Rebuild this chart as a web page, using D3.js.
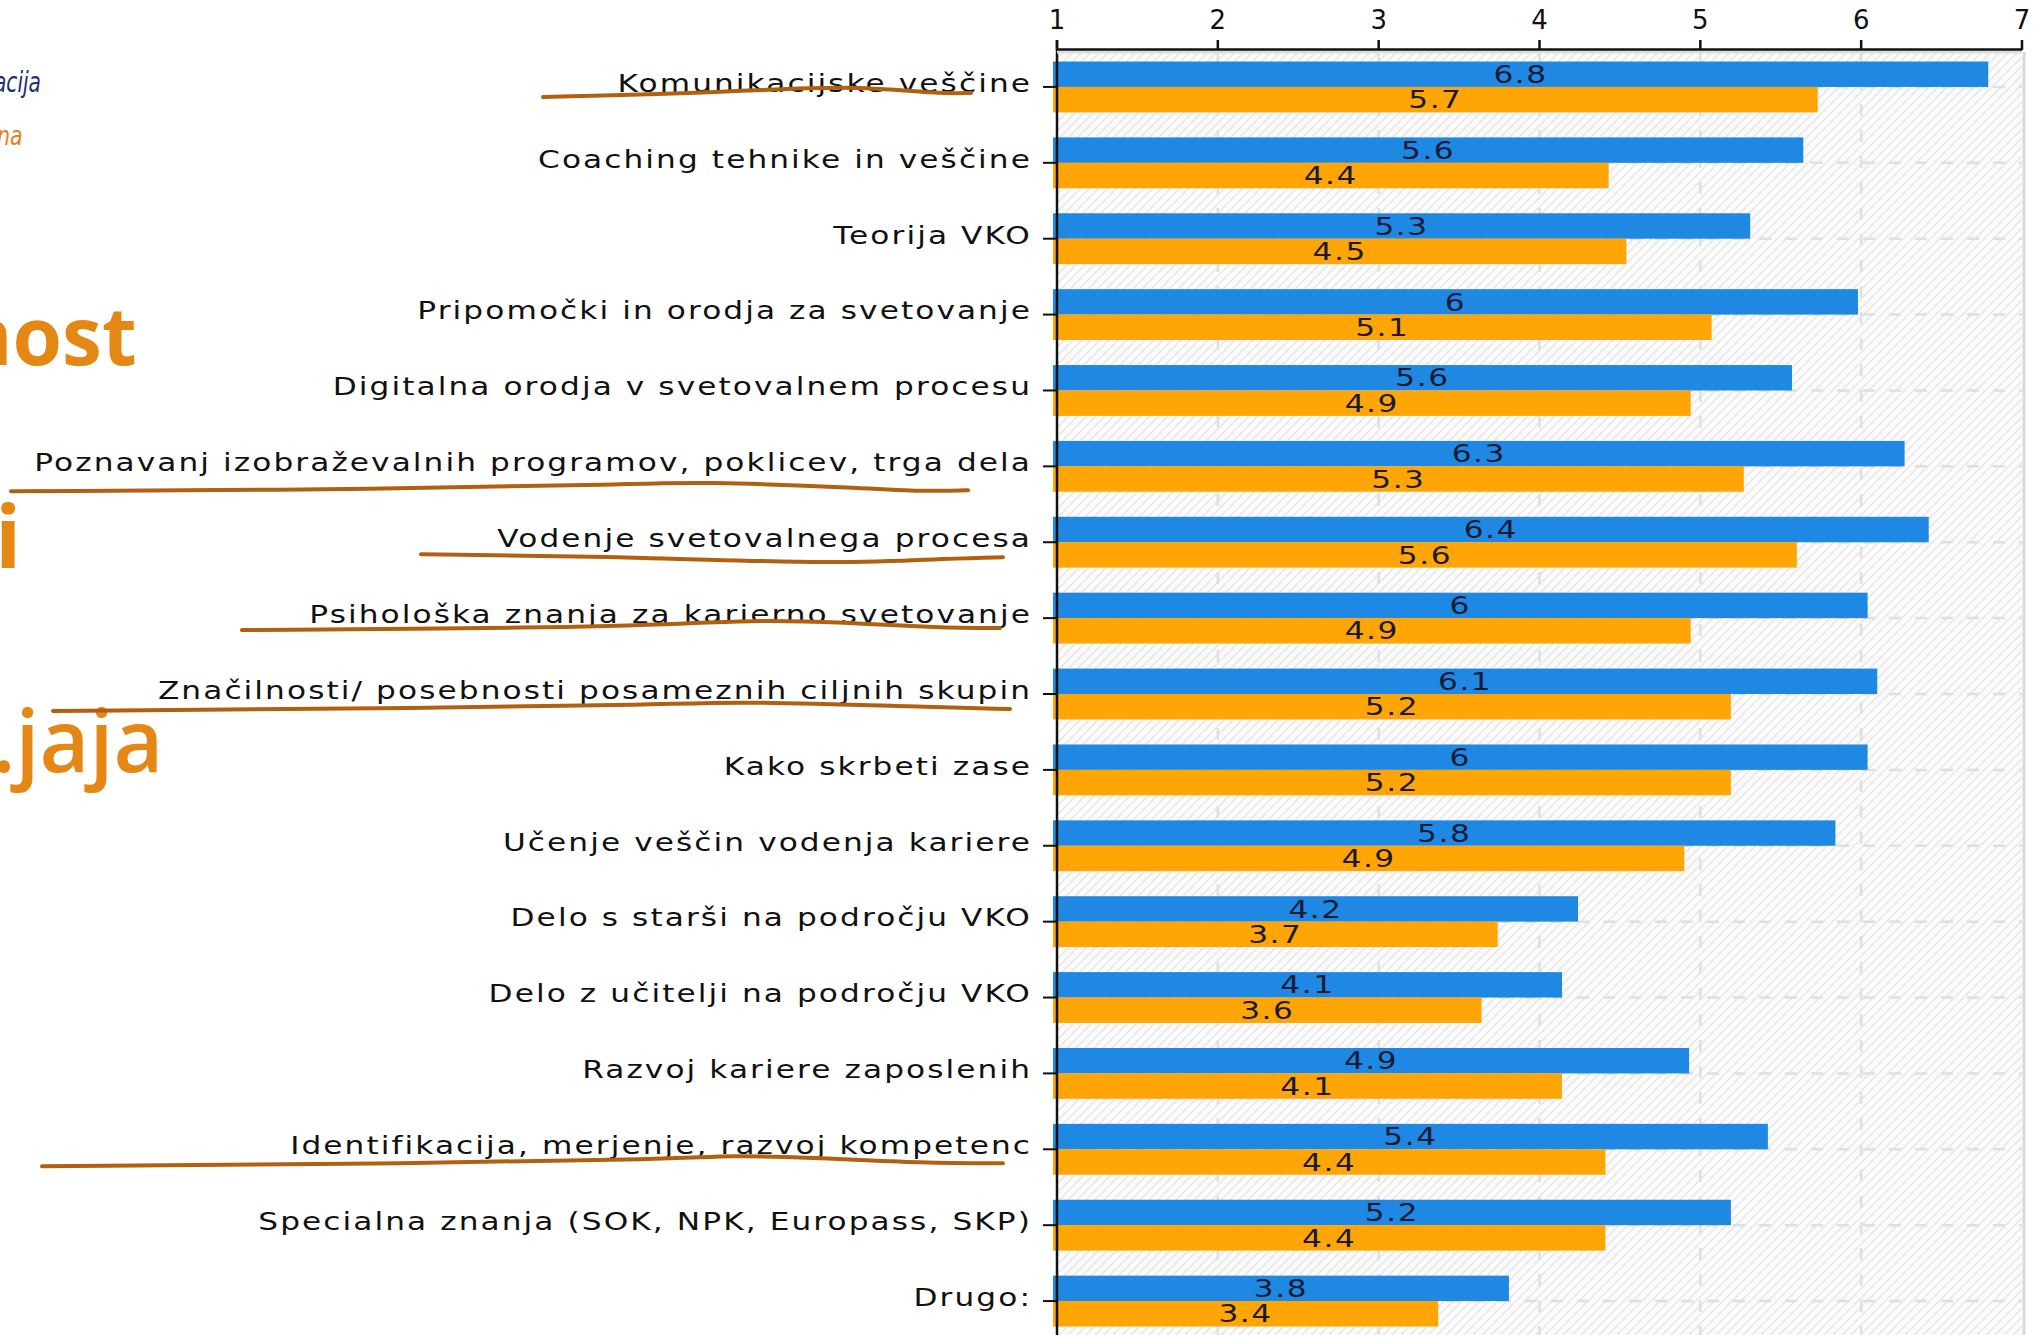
<!DOCTYPE html>
<html><head><meta charset="utf-8">
<script src="https://cdn.jsdelivr.net/npm/d3@7"></script>
<style>
html,body{margin:0;padding:0;background:#fff;overflow:hidden}
svg{display:block}
</style></head>
<body>
<script>
const categories = [
  "Komunikacijske veščine",
  "Coaching tehnike in veščine",
  "Teorija VKO",
  "Pripomočki in orodja za svetovanje",
  "Digitalna orodja v svetovalnem procesu",
  "Poznavanj izobraževalnih programov, poklicev, trga dela",
  "Vodenje svetovalnega procesa",
  "Psihološka znanja za karierno svetovanje",
  "Značilnosti/ posebnosti posameznih ciljnih skupin",
  "Kako skrbeti zase",
  "Učenje veščin vodenja kariere",
  "Delo s starši na področju VKO",
  "Delo z učitelji na področju VKO",
  "Razvoj kariere zaposlenih",
  "Identifikacija, merjenje, razvoj kompetenc",
  "Specialna znanja (SOK, NPK, Europass, SKP)",
  "Drugo:"
];
const seriesBlue   = [6.79, 5.64, 5.31, 5.98, 5.57, 6.27, 6.42, 6.04, 6.10, 6.04, 5.84, 4.24, 4.14, 4.93, 5.42, 5.19, 3.81];
const seriesOrange = [5.73, 4.43, 4.54, 5.07, 4.94, 5.27, 5.60, 4.94, 5.19, 5.19, 4.90, 3.74, 3.64, 4.14, 4.41, 4.41, 3.37];
const tickValues = [1, 2, 3, 4, 5, 6, 7];
const seriesKeys = ["blue", "orange"];
const seriesColors = {blue: "#1e88e3", orange: "#ffa505"};
// hand-drawn underline annotations: category index, [x, dy] points
const underlines = [
  {cat: 0,  pts: [[543,10],[714,6],[850,-2],[939,7],[971,6]]},
  {cat: 5,  pts: [[11,25],[393,23],[631,18],[695,15],[877,22],[912,25],[968,24]]},
  {cat: 6,  pts: [[421,12],[652,15],[835,22],[954,16],[1003,15]]},
  {cat: 7,  pts: [[242,12],[547,10],[701,5],[757,2],[842,4],[940,10],[1000,10]]},
  {cat: 8,  pts: [[53,17],[435,14],[659,11],[736,7],[926,13],[1010,15]]},
  {cat: 14, pts: [[42,17],[421,14],[673,10],[730,6],[807,8],[926,14],[1003,14]]}
];

const W = 2038, H = 1335;
const svg = d3.select("body").append("svg").attr("width", W).attr("height", H);

const defs = svg.append("defs");
const pat = defs.append("pattern").attr("id","hatch").attr("patternUnits","userSpaceOnUse")
  .attr("width",9).attr("height",9);
pat.append("rect").attr("width",9).attr("height",9).attr("fill","#fbfbfb");
pat.append("path").attr("d","M-2,2 l4,-4 M0,9 l9,-9 M7,11 l4,-4")
  .attr("stroke","#e6e6e6").attr("stroke-width",1.5);

const x = d3.scaleLinear().domain([1,7]).range([1057,2022]);
const y = d3.scaleBand().domain(categories).range([49,1339]).paddingInner(0.33).paddingOuter(0.165);
const ySub = d3.scaleBand().domain(seriesKeys).range([0, y.bandwidth()]);
const yc = c => y(c) + y.bandwidth()/2;

// left-side fragments of slide text
const frag = svg.append("g");
frag.append("g").attr("transform","translate(-6,92) scale(0.8,1)").append("text").text("acija")
  .attr("font-family","Liberation Sans Narrow, DejaVu Sans Condensed, sans-serif")
  .attr("font-style","italic").attr("font-size",28).attr("fill","#1c2f6e");
frag.append("g").attr("transform","translate(-3,145) scale(0.85,1)").append("text").text("na")
  .attr("font-family","Liberation Sans Narrow, DejaVu Sans Condensed, sans-serif")
  .attr("font-style","italic").attr("font-size",27).attr("fill","#e8801c");
const bigFont = "Open Sans, Noto Sans, sans-serif";
frag.append("text").attr("x",-40).attr("y",365).text("nost")
  .attr("font-family",bigFont).attr("font-weight",700).attr("font-size",80).attr("fill","#e58714");
frag.append("text").attr("x",-5).attr("y",568).text("i")
  .attr("font-family",bigFont).attr("font-weight",700).attr("font-size",86).attr("fill","#e58714");
frag.append("text").attr("x",-8).attr("y",772).text(".jaja")
  .attr("font-family",bigFont).attr("font-weight",600).attr("font-size",86).attr("fill","#e58714");

// plot background
const plot = svg.append("g");
plot.append("rect").attr("x",x(1)).attr("y",49).attr("width",x(7)-x(1)).attr("height",H-49)
  .attr("fill","url(#hatch)");

// gridlines
plot.selectAll("line.vgrid").data(tickValues.filter(t => t>1 && t<7)).join("line")
  .attr("class","vgrid")
  .attr("x1",d=>x(d)).attr("x2",d=>x(d)).attr("y1",52).attr("y2",H)
  .attr("stroke","#e0e0e0").attr("stroke-width",2.5).attr("stroke-dasharray","12,14");
plot.append("line").attr("x1",x(7)+2).attr("x2",x(7)+2).attr("y1",52).attr("y2",H)
  .attr("stroke","#d9d9d9").attr("stroke-width",3);
plot.selectAll("line.hgrid").data(categories).join("line")
  .attr("class","hgrid")
  .attr("x1",x(1)).attr("x2",x(7)).attr("y1",d=>yc(d)).attr("y2",d=>yc(d))
  .attr("stroke","#e0e0e0").attr("stroke-width",2.5).attr("stroke-dasharray","12,14");

// bars
const rows = categories.map((c,i) => ({cat:c, vals:[{key:"blue", v:seriesBlue[i]},{key:"orange", v:seriesOrange[i]}]}));
const grp = svg.append("g").selectAll("g").data(rows).join("g")
  .attr("transform", d => `translate(0,${y(d.cat)})`);
grp.selectAll("rect").data(d => d.vals).join("rect")
  .attr("x", x(1)-4).attr("y", d => ySub(d.key))
  .attr("width", d => x(d.v) - x(1) + 4).attr("height", ySub.bandwidth())
  .attr("fill", d => seriesColors[d.key]);

const fmt = d3.format(".2~r");
grp.selectAll("g.lab").data(d => d.vals).join("g").attr("class","lab")
  .attr("transform", d => `translate(${(x(1)-4 + x(d.v))/2},${ySub(d.key)+ySub.bandwidth()/2}) scale(1.3,1)`)
  .append("text")
  .attr("text-anchor","middle").attr("dy","0.36em")
  .attr("font-family","DejaVu Sans, Verdana, sans-serif").attr("font-size",24)
  .attr("letter-spacing",1.2)
  .attr("fill","#1a1a33")
  .text(d => fmt(d.v));

// left axis
const yAxis = svg.append("g").attr("transform",`translate(${x(1)},0)`);
yAxis.append("line").attr("x1",0).attr("x2",0).attr("y1",40).attr("y2",H).attr("stroke","#111").attr("stroke-width",2.5);
yAxis.selectAll("line.t").data(categories).join("line").attr("class","t")
  .attr("x1",-14).attr("x2",0).attr("y1",d=>yc(d)).attr("y2",d=>yc(d))
  .attr("stroke","#111").attr("stroke-width",2);
svg.append("g").selectAll("g").data(categories).join("g")
  .attr("transform", d => `translate(1032,${yc(d)}) scale(1.3,1)`)
  .append("text").attr("text-anchor","end").attr("dy","0.2em")
  .attr("font-family","DejaVu Sans, Verdana, sans-serif").attr("font-size",24)
  .attr("letter-spacing",1.6).attr("fill","#111")
  .text(d => d);

// top axis
const xAxis = svg.append("g");
xAxis.append("line").attr("x1",x(1)).attr("x2",x(7)).attr("y1",52).attr("y2",52).attr("stroke","#ddd").attr("stroke-width",3);
xAxis.append("line").attr("x1",x(1)).attr("x2",x(7)).attr("y1",49.5).attr("y2",49.5).attr("stroke","#111").attr("stroke-width",2.5);
xAxis.selectAll("line.t").data(tickValues).join("line").attr("class","t")
  .attr("x1",d=>x(d)).attr("x2",d=>x(d)).attr("y1",40).attr("y2",50)
  .attr("stroke","#111").attr("stroke-width",2.5);
xAxis.selectAll("text").data(tickValues).join("text")
  .attr("x",d=>x(d)).attr("y",29).attr("text-anchor","middle")
  .attr("font-family","DejaVu Sans, Verdana, sans-serif").attr("font-size",26)
  .attr("fill","#111").text(d=>d);

// hand-drawn underlines
const line = d3.line().curve(d3.curveBasis);
svg.append("g").selectAll("path").data(underlines).join("path")
  .attr("d", u => line(u.pts.map(p => [p[0], yc(categories[u.cat]) + p[1]])))
  .attr("fill","none").attr("stroke","#b0600f").attr("stroke-width",4)
  .attr("stroke-linecap","round").attr("stroke-linejoin","round");
</script>
</body></html>
